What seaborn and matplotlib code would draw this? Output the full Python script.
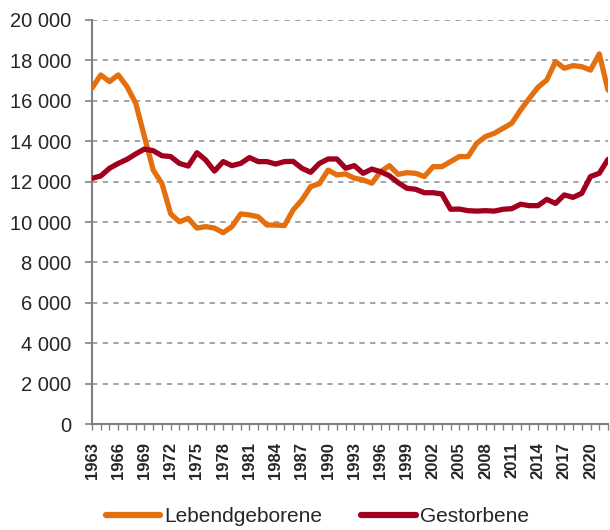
import numpy as np
import pandas as pd
import matplotlib
matplotlib.use("Agg")
import matplotlib.pyplot as plt
import seaborn as sns
from matplotlib.ticker import FuncFormatter, MultipleLocator

years = list(range(1963, 2023))

lebendgeborene = [
    16630, 17280, 16950, 17280, 16700, 15880, 14220, 12570, 11900, 10400,
    10010, 10180, 9700, 9770, 9700, 9470, 9770, 10400, 10350, 10260,
    9850, 9850, 9820, 10600, 11090, 11750, 11900, 12570, 12330, 12380,
    12170, 12080, 11920, 12490, 12790, 12360, 12440, 12410, 12250, 12740,
    12740, 12990, 13240, 13240, 13900, 14230, 14390, 14640, 14890, 15540,
    16120, 16670, 17030, 17940, 17610, 17740, 17690, 17520, 18320, 16530,
]

gestorbene = [
    12160, 12280, 12660, 12900, 13100, 13370, 13610, 13530, 13280, 13240,
    12900, 12770, 13430, 13070, 12520, 12990, 12790, 12900, 13190, 12990,
    12990, 12870, 12990, 13000, 12660, 12460, 12900, 13120, 13120, 12660,
    12790, 12410, 12620, 12490, 12290, 11950, 11670, 11620, 11450, 11450,
    11390, 10630, 10640, 10560, 10540, 10560, 10540, 10630, 10660, 10880,
    10810, 10810, 11120, 10920, 11340, 11220, 11420, 12250, 12410, 13100,
]

series_names = ["Lebendgeborene", "Gestorbene"]
colors = ["#E46F0E", "#A0001E"]

df = pd.DataFrame({
    "Jahr": years * 2,
    "Anzahl": lebendgeborene + gestorbene,
    "Reihe": [series_names[0]] * len(years) + [series_names[1]] * len(years),
})

sns.set_style("white")
plt.rcParams["font.family"] = ["Liberation Sans", "DejaVu Sans"]

fig = plt.figure(figsize=(6.1, 5.3), dpi=100)
ax = fig.add_axes([92 / 610, 106 / 530, 516 / 610, 404 / 530])

sns.lineplot(data=df, x="Jahr", y="Anzahl", hue="Reihe",
             palette=dict(zip(series_names, colors)), linewidth=3.8,
             ax=ax, legend=False, zorder=3)

ax.set_xlim(1963, 2022)
ax.set_ylim(0, 20000)
ax.set_xlabel("")
ax.set_ylabel("")

# y axis
ax.yaxis.set_major_locator(MultipleLocator(2000))
ax.yaxis.set_major_formatter(FuncFormatter(lambda v, p: f"{int(v):,}".replace(",", " ")))
ax.grid(axis="y", color="#8C8C8C", linestyle=(0, (3.5, 3.5)), linewidth=1.1)
ax.grid(axis="x", visible=False)

# x axis
ax.set_xticks(years[::3])
ax.xaxis.set_minor_locator(MultipleLocator(1))
for lab in ax.get_xticklabels():
    lab.set_rotation(90)
    lab.set_fontweight("bold")

ax.tick_params(axis="y", which="major", left=True, length=5, width=1.2,
               color="#808080", labelsize=14.5, pad=10)
ax.tick_params(axis="x", which="both", bottom=True, length=4, width=1.0,
               color="#808080", labelsize=12, pad=9)

for side in ["top", "right"]:
    ax.spines[side].set_visible(False)
for side in ["left", "bottom"]:
    ax.spines[side].set_color("#808080")
    ax.spines[side].set_linewidth(1.5)

handles = [plt.Line2D([], [], color=c, linewidth=4.5, solid_capstyle="round") for c in colors]
fig.legend(handles, series_names, loc="center", bbox_to_anchor=(0.52, 1 - 517 / 530),
           ncol=2, frameon=False, fontsize=15, handlelength=2.6,
           handletextpad=0.2, columnspacing=1.9)

fig.savefig("out.png", dpi=100)
